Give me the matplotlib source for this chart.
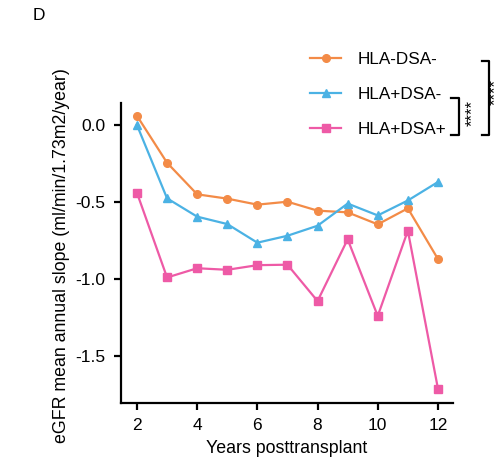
import matplotlib
matplotlib.use("Agg")
import matplotlib.pyplot as plt
from matplotlib.lines import Line2D

plt.rcParams['font.family'] = ['Liberation Sans', 'DejaVu Sans']

# data
years = [2, 3, 4, 5, 6, 7, 8, 9, 10, 11, 12]
neg_neg = [0.06, -0.245, -0.45, -0.478, -0.517, -0.498, -0.556, -0.567, -0.645, -0.541, -0.87]
pos_neg = [0.0, -0.476, -0.595, -0.643, -0.764, -0.719, -0.654, -0.51, -0.587, -0.49, -0.37]
pos_pos = [-0.44, -0.99, -0.93, -0.94, -0.91, -0.907, -1.143, -0.742, -1.24, -0.686, -1.712]

labels = ["HLA-DSA-", "HLA+DSA-", "HLA+DSA+"]
colors = ["#F38B47", "#4BB2E4", "#EE5AA6"]
markers = ["o", "^", "s"]
xticks = [2, 4, 6, 8, 10, 12]
yticks = [0.0, -0.5, -1.0, -1.5]

W, H = 502, 459
fig = plt.figure(figsize=(W / 100, H / 100), dpi=100)
ax = fig.add_axes([121 / W, 1 - 403 / H, (453 - 121) / W, (403 - 103) / H])

for series, lab, col, mk in zip([neg_neg, pos_neg, pos_pos], labels, colors, markers):
    ax.plot(years, series, color=col, marker=mk, markersize=6 if mk != "o" else 5.5,
            linewidth=1.6, label=lab)

ax.set_xlim(1.47, 12.5)
ax.set_ylim(-1.805, 0.143)
ax.set_xticks(xticks)
ax.set_yticks(yticks)
ax.set_yticklabels([f"{v:.1f}" for v in yticks])
for s in ["top", "right"]:
    ax.spines[s].set_visible(False)
for s in ["left", "bottom"]:
    ax.spines[s].set_linewidth(1.6)
ax.tick_params(labelsize=12.5, width=1.6, length=5, direction="out", pad=6)
ax.set_xlabel("Years posttransplant", fontsize=12.8, labelpad=5)
ax.set_ylabel("eGFR mean annual slope (ml/min/1.73m2/year)", fontsize=12.8)
ax.yaxis.set_label_coords(-0.155, 0.49)

leg = ax.legend(loc="upper left", bbox_to_anchor=(295 / W, 1 - 37 / H),
                bbox_transform=fig.transFigure, frameon=False, fontsize=12.3,
                handlelength=1.8, handletextpad=0.95, labelspacing=1.15)

fig.text(33 / W, 1 - 15 / H, "D", fontsize=12.5, va="center", ha="left")

# significance brackets
def bracket(x_in, x_out, y_top, y_bot):
    px = [x_in / W, x_out / W, x_out / W, x_in / W]
    py = [1 - y_top / H, 1 - y_top / H, 1 - y_bot / H, 1 - y_bot / H]
    fig.add_artist(Line2D(px, py, color="black", linewidth=1.6, transform=fig.transFigure))

bracket(451, 459, 98, 135)
bracket(482, 489, 61, 135)
fig.text(472 / W, 1 - 113 / H, "****", rotation=90, fontsize=12, ha="center", va="center")
fig.text(495 / W, 1 - 92 / H, "****", rotation=90, fontsize=12, ha="center", va="center")

fig.savefig("out.png", dpi=100)
